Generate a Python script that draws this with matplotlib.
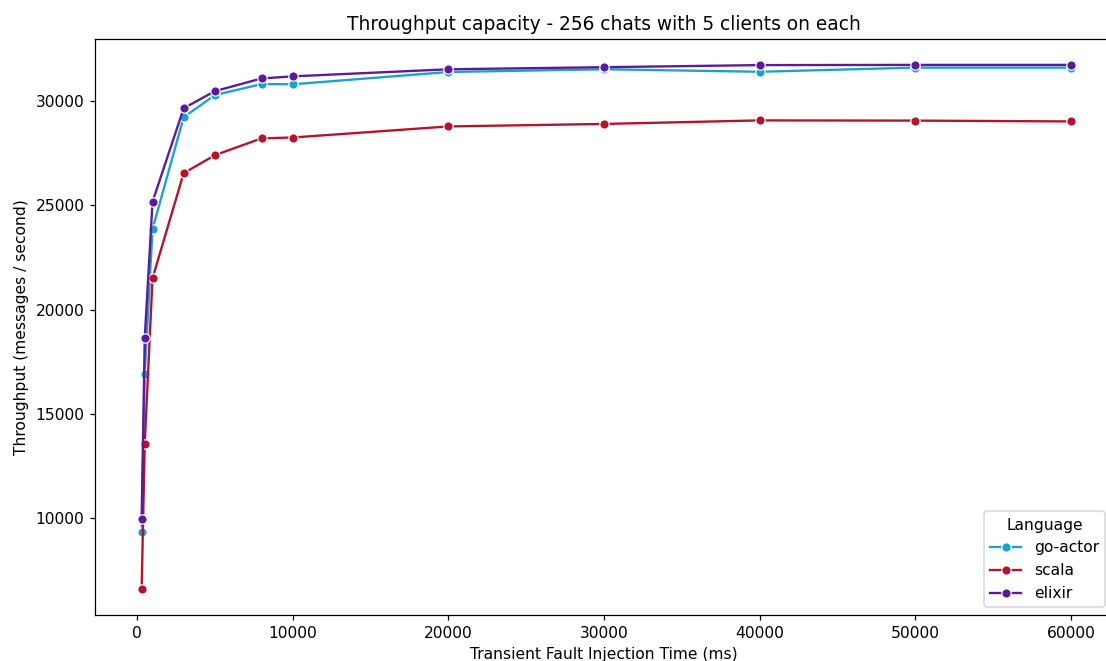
import matplotlib
matplotlib.use("Agg")
import matplotlib.pyplot as plt

x = [300, 500, 1000, 3000, 5000, 8000, 10000, 20000, 30000, 40000, 50000, 60000]
go_actor = [9330, 16900, 23860, 29220, 30280, 30810, 30800, 31390, 31520, 31400, 31600, 31600]
scala = [6600, 13580, 21500, 26540, 27400, 28210, 28250, 28780, 28900, 29070, 29060, 29020]
elixir = [9950, 18640, 25170, 29650, 30470, 31080, 31180, 31520, 31620, 31720, 31730, 31730]

series = [("go-actor", go_actor, "#1aa3c9"), ("scala", scala, "#b5122b"), ("elixir", elixir, "#5a1a9a")]

DPI = 112
W, H = 1106, 661
fig = plt.figure(figsize=(W / DPI, H / DPI), dpi=DPI)
L, R, T, B = 95.3, 1113, 39, 615
ax = fig.add_axes([L / W, 1 - B / H, (R - L) / W, (B - T) / H])
for name, y, c in series:
    ax.plot(x, y, color=c, marker="o", markersize=6, markeredgecolor="white",
            markeredgewidth=0.75, linewidth=1.5, label=name)

ax.set_xlim(-2676, 62696)
ax.set_ylim(5365, 32971)
ax.set_xticks([0, 10000, 20000, 30000, 40000, 50000, 60000])
ax.set_yticks([10000, 15000, 20000, 25000, 30000])
ax.set_title("Throughput capacity - 256 chats with 5 clients on each", fontsize=12)
ax.set_xlabel("Transient Fault Injection Time (ms)")
ax.set_ylabel("Throughput (messages / second)")
ax.legend(title="Language", loc="lower right")
fig.savefig("out.png", dpi=DPI)
